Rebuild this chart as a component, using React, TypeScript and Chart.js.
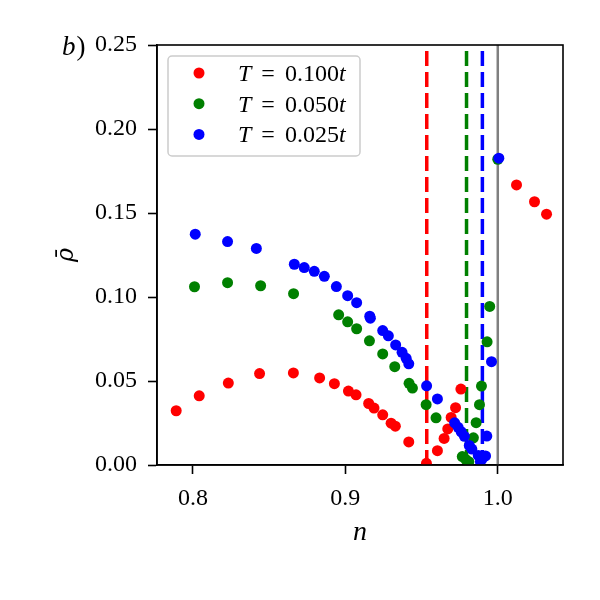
import React, { useEffect, useRef } from 'react';
import { Chart, registerables } from 'chart.js';

Chart.register(...registerables);

// filling n and mean density rho for three temperatures
const temperatures = ['0.100', '0.050', '0.025'];
const seriesColors = ['red', 'green', 'blue'];

const nRed = [0.789, 0.8041, 0.8232, 0.8437, 0.8659, 0.8831, 0.8928, 0.902, 0.907, 0.9153, 0.9188, 0.9245, 0.930, 0.9328, 0.9416, 0.9532, 0.9604, 0.9648, 0.9672, 0.9694, 0.9723, 0.9758, 1.0123, 1.0241, 1.032];
const rhoRed = [0.0323, 0.0412, 0.0488, 0.0544, 0.0548, 0.0518, 0.0484, 0.0440, 0.0418, 0.0366, 0.0339, 0.0299, 0.0249, 0.0231, 0.0137, 0.001, 0.0085, 0.0158, 0.0215, 0.0283, 0.0341, 0.0452, 0.1667, 0.1567, 0.1493];

const nGreen = [0.801, 0.8227, 0.8444, 0.866, 0.8956, 0.9015, 0.9074, 0.9158, 0.9245, 0.9324, 0.9418, 0.944, 0.953, 0.9595, 0.9767, 0.9791, 0.981, 0.984, 0.9858, 0.988, 0.9893, 0.993, 0.9947, 1.0];
const rhoGreen = [0.1061, 0.1085, 0.1067, 0.1020, 0.0894, 0.0852, 0.0811, 0.0739, 0.0661, 0.0585, 0.0486, 0.0458, 0.0359, 0.0281, 0.005, 0.0032, 0.002, 0.0162, 0.0252, 0.0359, 0.047, 0.0733, 0.0944, 0.182];

const nBlue = [0.8015, 0.8227, 0.8416, 0.8665, 0.873, 0.8796, 0.8862, 0.8941, 0.9015, 0.9074, 0.916, 0.9164, 0.9245, 0.9282, 0.933, 0.9372, 0.9399, 0.9416, 0.9533, 0.9604, 0.9717, 0.974, 0.976, 0.9781, 0.9813, 0.983, 0.9872, 0.9886, 0.99, 0.992, 0.9928, 0.9959, 1.0007];
const rhoBlue = [0.1374, 0.1330, 0.1289, 0.1195, 0.1175, 0.1153, 0.1123, 0.1062, 0.1008, 0.0966, 0.0886, 0.0874, 0.0800, 0.0769, 0.0715, 0.0671, 0.0635, 0.0602, 0.0471, 0.0393, 0.0251, 0.0224, 0.0198, 0.0171, 0.0116, 0.0095, 0.0057, 0.002, 0.004, 0.0054, 0.0172, 0.0615, 0.1826];

// critical fillings (dashed) and half filling (solid gray)
const criticalN = [0.9534, 0.9795, 0.9899];
const halfFilling = 1.0;

const xTicks = [0.8, 0.9, 1.0];
const yTicks = [0, 0.05, 0.1, 0.15, 0.2, 0.25];

const FONT = '"Liberation Serif", "DejaVu Serif", serif';

const toPoints = (xs: number[], ys: number[]) => xs.map((x, i) => ({ x, y: ys[i] }));

const framePlugin = {
  id: 'frame',
  afterDraw(chart: any) {
    const { ctx, chartArea } = chart;
    ctx.save();
    ctx.strokeStyle = 'black';
    ctx.lineWidth = 1.6;
    ctx.strokeRect(chartArea.left, chartArea.top, chartArea.right - chartArea.left, chartArea.bottom - chartArea.top);
    ctx.restore();
  },
};

const legendPlugin = {
  id: 'boxLegend',
  afterDraw(chart: any) {
    const { ctx, chartArea } = chart;
    const x0 = chartArea.left + 11;
    const y0 = chartArea.top + 11;
    ctx.save();
    ctx.beginPath();
    ctx.roundRect(x0, y0, 192, 100, 4);
    ctx.fillStyle = 'rgba(255,255,255,0.8)';
    ctx.fill();
    ctx.strokeStyle = '#cccccc';
    ctx.lineWidth = 1.5;
    ctx.stroke();
    ctx.textBaseline = 'alphabetic';
    temperatures.forEach((t, i) => {
      const cy = y0 + 17 + i * 30.7;
      ctx.beginPath();
      ctx.arc(x0 + 31, cy, 5.5, 0, Math.PI * 2);
      ctx.fillStyle = seriesColors[i];
      ctx.fill();
      ctx.fillStyle = 'black';
      let x = x0 + 70;
      const base = cy + 8;
      ctx.font = `italic 24px ${FONT}`;
      ctx.fillText('T', x, base);
      x += ctx.measureText('T').width + 10;
      ctx.font = `24px ${FONT}`;
      ctx.fillText('=', x, base);
      x += ctx.measureText('=').width + 10;
      ctx.fillText(t, x, base);
      x += ctx.measureText(t).width;
      ctx.font = `italic 24px ${FONT}`;
      ctx.fillText('t', x, base);
    });
    ctx.restore();
  },
};

const panelPlugin = {
  id: 'panelLabel',
  afterDraw(chart: any) {
    const { ctx, chartArea } = chart;
    ctx.save();
    ctx.fillStyle = 'black';
    ctx.textBaseline = 'alphabetic';
    const x = chartArea.left - 95;
    const y = chartArea.top + 10;
    ctx.font = `italic 27px ${FONT}`;
    ctx.fillText('b', x, y);
    const w = ctx.measureText('b').width;
    ctx.font = `27px ${FONT}`;
    ctx.fillText(')', x + w + 1, y);
    ctx.restore();
  },
};

const App: React.FC = () => {
  const canvasRef = useRef<HTMLCanvasElement | null>(null);

  useEffect(() => {
    if (!canvasRef.current) return;
    const ctx = canvasRef.current.getContext('2d');
    if (!ctx) return;

    const scatterSets = [
      [nRed, rhoRed],
      [nGreen, rhoGreen],
      [nBlue, rhoBlue],
    ].map(([xs, ys], i) => ({
      label: `T = ${temperatures[i]}t`,
      data: toPoints(xs, ys),
      backgroundColor: seriesColors[i],
      borderWidth: 0,
      pointRadius: 5.5,
      pointHoverRadius: 5.5,
      clip: 0,
      order: 3 - i,
    }));

    const lineSets = criticalN.map((c, i) => ({
      label: `critical ${temperatures[i]}`,
      data: [{ x: c, y: 0 }, { x: c, y: 0.25 }],
      showLine: true,
      borderColor: seriesColors[i],
      borderWidth: 3.5,
      borderDash: [15, 6],
      pointRadius: 0,
      order: 5,
    }));

    const halfSet = {
      label: 'n = 1',
      data: [{ x: halfFilling, y: 0 }, { x: halfFilling, y: 0.25 }],
      showLine: true,
      borderColor: '#808080',
      borderWidth: 2.5,
      pointRadius: 0,
      order: 6,
    };

    const chartInstance = new Chart(ctx, {
      type: 'scatter',
      data: { datasets: [...scatterSets, ...lineSets, halfSet] as any },
      options: {
        animation: false,
        responsive: false,
        layout: { padding: { top: 45, right: 37, left: 0, bottom: 0 } },
        plugins: {
          legend: { display: false },
          tooltip: { enabled: false },
        },
        scales: {
          x: {
            type: 'linear',
            min: 0.7764,
            max: 1.0428,
            afterBuildTicks: (scale: any) => {
              scale.ticks = xTicks.map((v) => ({ value: v }));
            },
            afterFit: (scale: any) => {
              scale.height = 135;
            },
            border: { display: true, color: 'black', width: 1.6 },
            grid: {
              drawOnChartArea: false,
              drawTicks: true,
              tickLength: 9,
              tickColor: 'black',
              tickWidth: 1.6,
            },
            ticks: {
              color: 'black',
              padding: 10,
              font: { family: FONT, size: 24 },
              callback: (v: any) => Number(v).toFixed(1),
            },
            title: {
              display: true,
              text: 'n',
              color: 'black',
              font: { family: FONT, size: 28, style: 'italic' },
              padding: { top: 0, bottom: 51 },
            },
          },
          y: {
            type: 'linear',
            min: 0,
            max: 0.25,
            afterBuildTicks: (scale: any) => {
              scale.ticks = yTicks.map((v) => ({ value: v }));
            },
            afterFit: (scale: any) => {
              scale.width = 157;
            },
            border: { display: true, color: 'black', width: 1.6 },
            grid: {
              drawOnChartArea: false,
              drawTicks: true,
              tickLength: 9,
              tickColor: 'black',
              tickWidth: 1.6,
            },
            ticks: {
              color: 'black',
              padding: 11,
              font: { family: FONT, size: 24 },
              callback: (v: any) => Number(v).toFixed(2),
            },
            title: {
              display: true,
              text: 'ρ̄',
              color: 'black',
              font: { family: '"DejaVu Serif", serif', size: 24, style: 'italic' },
              padding: { top: 52, bottom: 0 },
            },
          },
        },
      },
      plugins: [framePlugin, legendPlugin, panelPlugin],
    });

    return () => {
      chartInstance.destroy();
    };
  }, []);

  return (
    <div style={{ position: 'fixed', left: 0, top: 0, width: 600, height: 600, background: 'white' }}>
      <canvas ref={canvasRef} width={600} height={600}></canvas>
    </div>
  );
};

export default App;
